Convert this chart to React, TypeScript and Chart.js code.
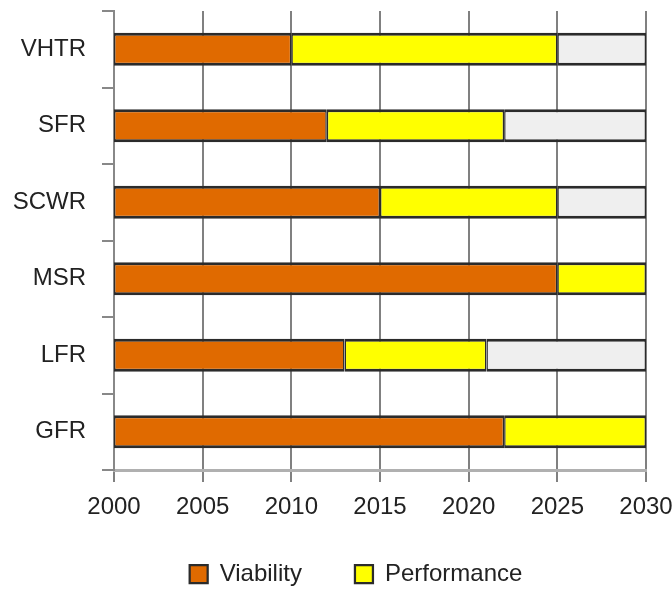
import React, { useEffect, useRef } from 'react';
import { Chart, registerables } from 'chart.js';

Chart.register(...registerables);

const categories = ['VHTR', 'SFR', 'SCWR', 'MSR', 'LFR', 'GFR'];
const startYear = 2000;
const endYear = 2030;
const yearStep = 5;
const viabilityEnd = [2010, 2012, 2015, 2025, 2013, 2022];
const performanceEnd = [2025, 2022, 2025, 2030, 2021, 2030];
const remainingEnd: (number | null)[] = [2030, 2030, 2030, null, 2030, null];
const seriesNames = ['Viability', 'Performance', 'Remaining'];
const seriesColors = ['#e06a00', '#ffff00', '#efefef'];

const FONT = "'Liberation Sans', Arial, sans-serif";
const FONT_SIZE = 24;

export default function App() {
  const ref = useRef<HTMLCanvasElement | null>(null);

  useEffect(() => {
    if (!ref.current) return;
    const viability = categories.map((_, i) => [startYear, viabilityEnd[i]]);
    const performance = categories.map((_, i) => [viabilityEnd[i], performanceEnd[i]]);
    const remaining = categories.map((_, i) =>
      remainingEnd[i] == null ? null : [performanceEnd[i], remainingEnd[i] as number]
    );
    const border = { top: 3, bottom: 3, left: 1.5, right: 1.5 };
    const chart = new Chart(ref.current, {
      type: 'bar',
      data: {
        labels: categories,
        datasets: [
          { label: seriesNames[0], data: viability as any, backgroundColor: seriesColors[0] },
          { label: seriesNames[1], data: performance as any, backgroundColor: seriesColors[1] },
          { label: seriesNames[2], data: remaining as any, backgroundColor: seriesColors[2] },
        ],
      },
      options: {
        indexAxis: 'y',
        animation: false,
        responsive: true,
        maintainAspectRatio: false,
        layout: { padding: { left: 0, right: -40, top: 11, bottom: -4 } },
        datasets: {
          bar: {
            grouped: false,
            categoryPercentage: 1,
            barPercentage: 0.43,
            borderColor: '#2b2b2b',
            borderWidth: border as any,
            borderSkipped: false,
          },
        },
        plugins: {
          tooltip: { enabled: false },
          legend: {
            position: 'bottom',
            labels: {
              filter: (item: any) => item.datasetIndex < 2,
              boxWidth: 18,
              boxHeight: 18,
              padding: 53,
              color: '#222',
              font: { family: FONT, size: FONT_SIZE },
            },
          },
        },
        scales: {
          x: {
            type: 'linear',
            min: startYear,
            max: endYear,
            ticks: {
              stepSize: yearStep,
              color: '#222',
              mirror: true,
              padding: -52,
              font: { family: FONT, size: FONT_SIZE },
              callback: (v: any) => String(v),
            },
            grid: { color: '#808080', lineWidth: 2, tickLength: 12 },
            border: { color: '#b0b0b0', width: 3 },
            afterFit: (s: any) => {
              s.height = 39;
              s.paddingLeft = 0;
              s.paddingRight = 26;
              s.paddingTop = 0;
              s.paddingBottom = 0;
            },
          },
          y: {
            ticks: {
              color: '#222',
              padding: 16,
              font: { family: FONT, size: FONT_SIZE },
            },
            grid: { drawOnChartArea: false, tickLength: 12, color: '#888', lineWidth: 2, offset: true },
            border: { color: '#888', width: 2 },
            afterFit: (s: any) => {
              s.width = 114;
              s.paddingTop = 0;
              s.paddingBottom = 0;
              s.paddingLeft = 0;
              s.paddingRight = 0;
            },
          },
        },
      },
    });
    return () => chart.destroy();
  }, []);

  return (
    <div style={{ position: 'absolute', left: 0, top: 0, width: 672, height: 592, background: '#fff' }}>
      <canvas ref={ref} />
    </div>
  );
}
